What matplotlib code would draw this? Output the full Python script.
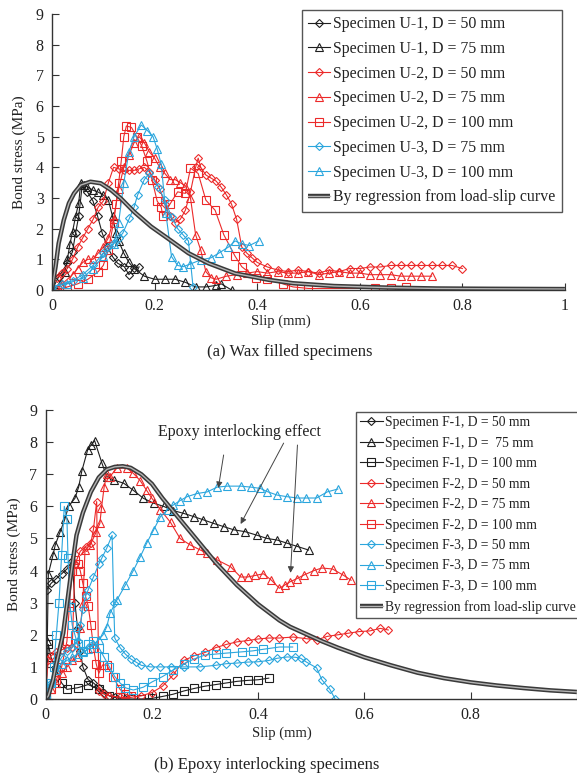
import matplotlib
matplotlib.use("Agg")
import matplotlib.pyplot as plt
from matplotlib.legend_handler import HandlerTuple

plt.rcParams['font.family'] = ['Liberation Serif', 'DejaVu Serif']

BLK = '#1e1e1e'
RED = '#ec2a2a'
CYN = '#2ba6dd'

# ---- (a) wax filled specimens ----
u1_50_x = [0, 0.013, 0.03, 0.04, 0.046, 0.052, 0.059, 0.069, 0.08, 0.089, 0.098, 0.108, 0.118, 0.128, 0.141, 0.15, 0.16, 0.17]
u1_50_y = [0, 0.43, 0.87, 1.25, 1.85, 2.4, 3.42, 3.2, 2.9, 2.4, 1.85, 1.41, 1.09, 0.87, 0.76, 0.5, 0.72, 0.75]

u1_75_x = [0, 0.015, 0.025, 0.03, 0.035, 0.04, 0.046, 0.052, 0.056, 0.062, 0.069, 0.079, 0.089, 0.10, 0.11, 0.118, 0.125, 0.13, 0.14, 0.15, 0.16, 0.18, 0.20, 0.22, 0.24, 0.26, 0.28, 0.30, 0.32, 0.33, 0.35]
u1_75_y = [0, 0.2, 0.6, 1.0, 1.5, 1.9, 2.4, 2.83, 3.48, 3.42, 3.37, 3.26, 3.2, 3.1, 2.93, 2.4, 1.85, 1.6, 1.2, 0.9, 0.7, 0.45, 0.35, 0.35, 0.35, 0.25, 0.1, 0.1, 0.15, 0.2, 0.0]

u2_50_x = [0.01, 0.02, 0.03, 0.04, 0.05, 0.06, 0.07, 0.08, 0.09, 0.10, 0.11, 0.12, 0.13, 0.14, 0.15, 0.16, 0.17, 0.18, 0.19, 0.20, 0.21, 0.22, 0.23, 0.24, 0.25, 0.26, 0.27, 0.28, 0.285, 0.29, 0.30, 0.31, 0.32, 0.33, 0.34, 0.35, 0.36, 0.37, 0.38, 0.39, 0.40, 0.42, 0.44, 0.46, 0.48, 0.50, 0.52, 0.54, 0.56, 0.58, 0.60, 0.62, 0.64, 0.66, 0.68, 0.70, 0.72, 0.74, 0.76, 0.78, 0.80]
u2_50_y = [0.4, 0.55, 0.7, 1.0, 1.4, 1.7, 2.0, 2.3, 2.7, 2.9, 3.5, 4.0, 3.95, 3.9, 3.9, 3.9, 3.95, 4.0, 3.85, 3.6, 3.3, 2.8, 2.4, 2.2, 2.3, 2.6, 3.2, 4.0, 4.3, 4.0, 3.75, 3.65, 3.55, 3.35, 3.1, 2.8, 2.3, 1.4, 1.2, 1.05, 0.9, 0.75, 0.65, 0.6, 0.65, 0.6, 0.55, 0.65, 0.6, 0.7, 0.7, 0.75, 0.75, 0.8, 0.8, 0.8, 0.8, 0.8, 0.8, 0.8, 0.7]

u2_75_x = [0, 0.02, 0.04, 0.05, 0.06, 0.07, 0.08, 0.09, 0.10, 0.11, 0.12, 0.13, 0.14, 0.15, 0.16, 0.17, 0.18, 0.19, 0.20, 0.21, 0.22, 0.23, 0.24, 0.25, 0.26, 0.27, 0.28, 0.29, 0.30, 0.31, 0.32, 0.34, 0.36, 0.38, 0.40, 0.42, 0.44, 0.46, 0.48, 0.50, 0.52, 0.54, 0.56, 0.58, 0.60, 0.62, 0.64, 0.66, 0.68, 0.70, 0.72, 0.74]
u2_75_y = [0.1, 0.2, 0.5, 0.7, 0.9, 1.0, 1.0, 1.2, 1.4, 1.7, 2.3, 3.3, 4.0, 4.4, 4.8, 5.0, 4.8, 4.5, 4.3, 4.0, 3.8, 3.6, 3.6, 3.5, 3.4, 3.0, 1.8, 1.3, 0.6, 0.4, 0.35, 0.45, 0.5, 0.55, 0.6, 0.55, 0.6, 0.55, 0.55, 0.6, 0.5, 0.55, 0.6, 0.55, 0.55, 0.5, 0.5, 0.5, 0.45, 0.45, 0.45, 0.45]

u2_100_x = [0.01, 0.03, 0.05, 0.07, 0.09, 0.10, 0.11, 0.12, 0.125, 0.13, 0.135, 0.14, 0.145, 0.155, 0.165, 0.175, 0.185, 0.195, 0.205, 0.213, 0.216, 0.23, 0.245, 0.26, 0.27, 0.285, 0.30, 0.318, 0.335, 0.357, 0.37, 0.397, 0.42, 0.45, 0.47, 0.50, 0.63, 0.66, 0.69]
u2_100_y = [0.0, 0.1, 0.2, 0.35, 0.6, 0.8, 1.3, 2.2, 2.8, 3.5, 4.2, 5.0, 5.35, 5.3, 5.0, 4.7, 4.2, 3.6, 2.9, 2.7, 2.4, 2.8, 3.2, 3.15, 3.97, 3.8, 2.93, 2.6, 1.8, 1.1, 0.76, 0.4, 0.35, 0.2, 0.1, 0.05, 0.05, 0.05, 0.1]

u3_75_x = [0, 0.02, 0.04, 0.06, 0.08, 0.10, 0.11, 0.121, 0.13, 0.138, 0.151, 0.16, 0.167, 0.18, 0.19, 0.207, 0.22, 0.233, 0.245, 0.256, 0.266, 0.275]
u3_75_y = [0.1, 0.2, 0.3, 0.5, 0.8, 1.2, 1.4, 1.52, 1.7, 1.85, 2.34, 2.7, 3.1, 3.6, 3.8, 3.37, 2.93, 2.39, 2.0, 1.79, 1.6, 0.1]

u3_100_x = [0, 0.03, 0.06, 0.08, 0.10, 0.12, 0.13, 0.14, 0.15, 0.16, 0.174, 0.186, 0.197, 0.205, 0.213, 0.222, 0.233, 0.245, 0.256, 0.27, 0.29, 0.31, 0.325, 0.344, 0.357, 0.37, 0.385, 0.403]
u3_100_y = [0.1, 0.2, 0.4, 0.7, 1.1, 1.5, 2.2, 3.5, 4.5, 5.0, 5.38, 5.2, 5.0, 4.6, 4.1, 2.5, 1.09, 0.8, 0.76, 0.85, 0.98, 1.05, 1.2, 1.4, 1.6, 1.5, 1.45, 1.6]

reg_a_x = [0, 0.003, 0.007, 0.013, 0.023, 0.033, 0.043, 0.056, 0.075, 0.095, 0.115, 0.134, 0.16, 0.193, 0.226, 0.266, 0.305, 0.357, 0.423, 0.47, 0.55, 0.65, 0.75, 0.85, 1.0]
reg_a_y = [0, 0.35, 0.76, 1.52, 2.28, 2.83, 3.15, 3.42, 3.53, 3.48, 3.26, 2.99, 2.55, 2.07, 1.68, 1.2, 0.87, 0.54, 0.33, 0.22, 0.13, 0.08, 0.05, 0.04, 0.03]

# ---- (b) epoxy interlocking specimens ----
f1_50_x = [0, 0.002, 0.01, 0.02, 0.03, 0.04, 0.05, 0.055, 0.06, 0.065, 0.07, 0.08, 0.09, 0.10, 0.11, 0.12, 0.13, 0.15]
f1_50_y = [0, 3.4, 3.6, 3.75, 3.9, 4.05, 4.3, 3.0, 2.2, 1.5, 1.0, 0.6, 0.5, 0.35, 0.2, 0.1, 0.05, 0.0]

f1_75_x = [0, 0.003, 0.005, 0.014, 0.018, 0.027, 0.036, 0.043, 0.055, 0.062, 0.068, 0.079, 0.085, 0.092, 0.106, 0.115, 0.128, 0.147, 0.165, 0.184, 0.203, 0.222, 0.24, 0.26, 0.279, 0.297, 0.316, 0.335, 0.354, 0.376, 0.398, 0.417, 0.436, 0.455, 0.474, 0.495]
f1_75_y = [0, 1.8, 3.9, 4.5, 4.8, 5.2, 5.6, 6.0, 6.25, 6.6, 7.1, 7.76, 7.9, 8.05, 7.34, 6.93, 6.82, 6.72, 6.5, 6.25, 6.1, 6.0, 5.87, 5.78, 5.68, 5.58, 5.47, 5.37, 5.27, 5.21, 5.1, 5.0, 4.95, 4.85, 4.75, 4.64]

f1_100_x = [0, 0.005, 0.01, 0.02, 0.03, 0.04, 0.06, 0.08, 0.10, 0.12, 0.14, 0.16, 0.18, 0.20, 0.22, 0.24, 0.26, 0.28, 0.30, 0.32, 0.34, 0.36, 0.38, 0.40, 0.42]
f1_100_y = [0, 1.7, 1.3, 0.9, 0.5, 0.3, 0.35, 0.45, 0.3, 0.1, 0.05, 0.0, 0.0, 0.02, 0.08, 0.15, 0.25, 0.33, 0.4, 0.45, 0.5, 0.55, 0.58, 0.6, 0.65]

f2_50_x = [0, 0.005, 0.01, 0.02, 0.03, 0.04, 0.05, 0.055, 0.065, 0.075, 0.085, 0.09, 0.096, 0.10, 0.11, 0.12, 0.14, 0.16, 0.18, 0.20, 0.22, 0.24, 0.26, 0.28, 0.30, 0.32, 0.34, 0.36, 0.38, 0.40, 0.42, 0.44, 0.466, 0.49, 0.51, 0.53, 0.55, 0.57, 0.59, 0.61, 0.63, 0.645]
f2_50_y = [0.3, 1.2, 1.35, 1.45, 1.53, 1.6, 1.62, 4.2, 4.6, 4.75, 4.85, 5.3, 6.15, 0.25, 0.15, 0.1, 0.05, 0.05, 0.1, 0.2, 0.4, 0.75, 1.2, 1.35, 1.45, 1.6, 1.7, 1.78, 1.82, 1.87, 1.9, 1.9, 1.93, 1.88, 1.84, 1.95, 2.0, 2.05, 2.1, 2.12, 2.2, 2.15]

f2_75_x = [0, 0.01, 0.02, 0.03, 0.04, 0.05, 0.058, 0.065, 0.07, 0.074, 0.084, 0.095, 0.102, 0.105, 0.11, 0.115, 0.121, 0.134, 0.153, 0.165, 0.178, 0.19, 0.2, 0.216, 0.235, 0.253, 0.272, 0.29, 0.304, 0.323, 0.348, 0.367, 0.38, 0.395, 0.41, 0.425, 0.44, 0.45, 0.46, 0.473, 0.486, 0.505, 0.52, 0.54, 0.56, 0.575]
f2_75_y = [0.2, 0.3, 0.5, 0.8, 1.0, 1.2, 1.32, 2.2, 3.0, 4.64, 4.8, 5.2, 5.47, 5.94, 6.6, 7.0, 6.93, 7.19, 7.19, 7.03, 6.8, 6.5, 6.25, 5.9, 5.5, 5.0, 4.8, 4.65, 4.54, 4.33, 4.12, 3.8, 3.8, 3.85, 3.9, 3.7, 3.45, 3.55, 3.65, 3.75, 3.86, 4.0, 4.08, 4.05, 3.86, 3.7]

f2_100_x = [0, 0.01, 0.02, 0.03, 0.04, 0.045, 0.05, 0.055, 0.06, 0.065, 0.07, 0.075, 0.08, 0.085, 0.09, 0.095, 0.10, 0.107, 0.115, 0.127, 0.14, 0.15, 0.16]
f2_100_y = [0, 0.3, 0.6, 1.0, 1.8, 3.0, 4.0, 4.33, 4.2, 4.0, 3.6, 3.2, 2.9, 2.3, 1.6, 1.1, 0.8, 1.06, 1.06, 0.69, 0.3, 0.15, 0.1]

f3_50_x = [0, 0.01, 0.02, 0.03, 0.04, 0.05, 0.06, 0.065, 0.07, 0.075, 0.08, 0.09, 0.10, 0.106, 0.115, 0.125, 0.128, 0.13, 0.14, 0.15, 0.16, 0.17, 0.18, 0.197, 0.215, 0.235, 0.26, 0.29, 0.32, 0.34, 0.36, 0.38, 0.40, 0.42, 0.436, 0.455, 0.47, 0.48, 0.49, 0.51, 0.52, 0.535, 0.545]
f3_50_y = [0.1, 0.5, 1.0, 1.3, 1.5, 1.6, 1.8, 2.3, 2.8, 3.2, 3.4, 3.8, 4.2, 4.4, 4.7, 5.1, 3.0, 1.9, 1.6, 1.4, 1.25, 1.15, 1.05, 1.0, 1.0, 1.0, 1.0, 1.0, 1.05, 1.1, 1.12, 1.15, 1.16, 1.2, 1.27, 1.31, 1.3, 1.27, 1.16, 0.97, 0.6, 0.3, 0.0]

f3_75_x = [0, 0.01, 0.02, 0.03, 0.04, 0.05, 0.06, 0.07, 0.08, 0.09, 0.10, 0.108, 0.115, 0.121, 0.134, 0.15, 0.165, 0.178, 0.19, 0.203, 0.216, 0.23, 0.24, 0.253, 0.266, 0.285, 0.304, 0.323, 0.342, 0.367, 0.386, 0.404, 0.417, 0.436, 0.455, 0.474, 0.49, 0.51, 0.53, 0.55]
f3_75_y = [0.2, 0.5, 0.9, 1.1, 1.2, 1.3, 1.4, 1.45, 1.55, 1.7, 1.85, 2.0, 2.25, 2.67, 3.08, 3.55, 4.0, 4.43, 4.85, 5.26, 5.68, 5.9, 6.04, 6.18, 6.3, 6.4, 6.45, 6.6, 6.63, 6.63, 6.6, 6.56, 6.46, 6.35, 6.3, 6.26, 6.26, 6.26, 6.45, 6.54]

f3_100_x = [0, 0.01, 0.015, 0.02, 0.025, 0.03, 0.035, 0.04, 0.042, 0.046, 0.05, 0.055, 0.06, 0.07, 0.08, 0.09, 0.10, 0.11, 0.12, 0.13, 0.14, 0.15, 0.165, 0.184, 0.20, 0.22, 0.24, 0.26, 0.28, 0.30, 0.32, 0.34, 0.37, 0.39, 0.41, 0.44, 0.465]
f3_100_y = [0.1, 0.5, 1.0, 2.0, 3.0, 4.5, 6.0, 5.6, 4.4, 2.88, 2.3, 2.0, 1.7, 1.5, 1.7, 1.8, 1.6, 1.3, 1.0, 0.7, 0.5, 0.35, 0.28, 0.37, 0.53, 0.7, 0.9, 1.1, 1.25, 1.37, 1.4, 1.43, 1.47, 1.5, 1.55, 1.62, 1.62]

reg_b_x = [0, 0.005, 0.014, 0.02, 0.033, 0.046, 0.058, 0.07, 0.085, 0.10, 0.115, 0.13, 0.145, 0.16, 0.18, 0.20, 0.22, 0.24, 0.26, 0.28, 0.30, 0.32, 0.34, 0.36, 0.38, 0.40, 0.42, 0.44, 0.46, 0.48, 0.50, 0.52, 0.55, 0.60, 0.65, 0.70, 0.75, 0.80, 0.85, 0.90, 0.95, 1.0]
reg_b_y = [0, 0.1, 0.6, 1.1, 2.05, 3.7, 5.1, 5.8, 6.45, 6.9, 7.15, 7.23, 7.25, 7.2, 7.0, 6.7, 6.25, 5.85, 5.45, 5.05, 4.65, 4.25, 3.9, 3.55, 3.25, 2.95, 2.7, 2.45, 2.25, 2.1, 1.95, 1.8, 1.6, 1.3, 1.05, 0.82, 0.65, 0.52, 0.42, 0.34, 0.27, 0.22]

labels_a = ['Specimen U-1, D = 50 mm', 'Specimen U-1, D = 75 mm', 'Specimen U-2, D = 50 mm',
            'Specimen U-2, D = 75 mm', 'Specimen U-2, D = 100 mm', 'Specimen U-3, D = 75 mm',
            'Specimen U-3, D = 100 mm', 'By regression from load-slip curve']
labels_b = ['Specimen F-1, D = 50 mm', 'Specimen F-1, D =  75 mm', 'Specimen F-1, D = 100 mm',
            'Specimen F-2, D = 50 mm', 'Specimen F-2, D = 75 mm', 'Specimen F-2, D = 100 mm',
            'Specimen F-3, D = 50 mm', 'Specimen F-3, D = 75 mm', 'Specimen F-3, D = 100 mm',
            'By regression from load-slip curve']

mk = {'D': 3.6, '^': 5.2, 's': 5.6}


def series(ax, x, y, color, marker):
    line, = ax.plot(x, y, color=color, lw=0.8, marker=marker, ms=mk[marker],
                    mfc='none', mec=color, mew=0.8)
    return line


def regression(ax, x, y):
    l1, = ax.plot(x, y, color='#3a3a3a', lw=3.2, solid_capstyle='butt')
    l2, = ax.plot(x, y, color='#b5b5b5', lw=1.0)
    return (l1, l2)


def style(ax, xlabels):
    ax.set_xlim(0, 1)
    ax.set_ylim(0, 9)
    ax.set_xticks([0, 0.2, 0.4, 0.6, 0.8, 1.0])
    ax.set_xticklabels(xlabels)
    ax.set_yticks(range(10))
    for s in ['top', 'right']:
        ax.spines[s].set_visible(False)
    for s in ['left', 'bottom']:
        ax.spines[s].set_color('#333')
        ax.spines[s].set_linewidth(1.0)
    ax.tick_params(direction='in', length=5, width=0.8, color='#333',
                   labelsize=11.5, labelcolor='#222', pad=6)
    ax.set_ylabel('Bond stress (MPa)', fontsize=11, color='#222')
    ax.set_xlabel('Slip (mm)', fontsize=10.5, color='#222')


fig = plt.figure(figsize=(5.77, 7.76), dpi=100)

# panel (a)
ax1 = fig.add_axes([0.0901, 0.6263, 0.889, 0.3557])
h = []
h.append(series(ax1, u1_50_x, u1_50_y, BLK, 'D'))
h.append(series(ax1, u1_75_x, u1_75_y, BLK, '^'))
h.append(series(ax1, u2_50_x, u2_50_y, RED, 'D'))
h.append(series(ax1, u2_75_x, u2_75_y, RED, '^'))
h.append(series(ax1, u2_100_x, u2_100_y, RED, 's'))
h.append(series(ax1, u3_75_x, u3_75_y, CYN, 'D'))
h.append(series(ax1, u3_100_x, u3_100_y, CYN, '^'))
h.append(regression(ax1, reg_a_x, reg_a_y))
style(ax1, ['0', '0.2', '0.4', '0.6', '0.8', '1'])
ax1.yaxis.set_label_coords(-0.05, 0.5)
ax1.xaxis.set_label_coords(0.446, -0.09)
leg = ax1.legend(h, labels_a, loc='upper right', bbox_to_anchor=(562 / 577, 1 - 10 / 776),
                 bbox_transform=fig.transFigure, fontsize=11.4, handlelength=1.4,
                 handletextpad=0.2, labelspacing=0.55, borderpad=0.4, fancybox=False,
                 edgecolor='#555', framealpha=1, borderaxespad=0,
                 handler_map={tuple: HandlerTuple(ndivide=1)})
leg.get_frame().set_linewidth(1.0)
for t in leg.get_texts():
    t.set_color('#222')

# panel (b)
ax2 = fig.add_axes([0.0792, 0.0992, 0.9205, 0.3724])
h = []
h.append(series(ax2, f1_50_x, f1_50_y, BLK, 'D'))
h.append(series(ax2, f1_75_x, f1_75_y, BLK, '^'))
h.append(series(ax2, f1_100_x, f1_100_y, BLK, 's'))
h.append(series(ax2, f2_50_x, f2_50_y, RED, 'D'))
h.append(series(ax2, f2_75_x, f2_75_y, RED, '^'))
h.append(series(ax2, f2_100_x, f2_100_y, RED, 's'))
h.append(series(ax2, f3_50_x, f3_50_y, CYN, 'D'))
h.append(series(ax2, f3_75_x, f3_75_y, CYN, '^'))
h.append(series(ax2, f3_100_x, f3_100_y, CYN, 's'))
h.append(regression(ax2, reg_b_x, reg_b_y))
style(ax2, ['0', '0.2', '0.4', '0.6', '0.8', ''])
ax2.yaxis.set_label_coords(-0.046, 0.5)
ax2.xaxis.set_label_coords(0.445, -0.095)
leg = ax2.legend(h, labels_b, loc='upper left', bbox_to_anchor=(356 / 577, 1 - 412 / 776),
                 bbox_transform=fig.transFigure, fontsize=9.8, handlelength=1.65,
                 handletextpad=0.15, labelspacing=0.55, borderpad=0.3, fancybox=False,
                 edgecolor='#555', framealpha=1, borderaxespad=0,
                 handler_map={tuple: HandlerTuple(ndivide=1)})
leg.get_frame().set_linewidth(1.0)
for t in leg.get_texts():
    t.set_color('#222')

ax2.text(0.364, 8.32, 'Epoxy interlocking effect', fontsize=11.5, color='#222',
         ha='center', va='center')
arrows = [((0.335, 7.6), (0.325, 6.57)), ((0.448, 7.97), (0.367, 5.45)),
          ((0.474, 7.91), (0.461, 3.93))]
for start, end in arrows:
    ax2.annotate('', xy=end, xytext=start,
                 arrowprops=dict(arrowstyle='-|>', color='#444', lw=0.7,
                                 mutation_scale=9, shrinkA=0, shrinkB=0))

fig.text(290 / 577, 1 - 352 / 776, '(a) Wax filled specimens', fontsize=12,
         ha='center', va='center', color='#222')
fig.text(267 / 577, 1 - 765 / 776, '(b) Epoxy interlocking specimens', fontsize=12,
         ha='center', va='center', color='#222')

fig.savefig('out.png', dpi=100)
